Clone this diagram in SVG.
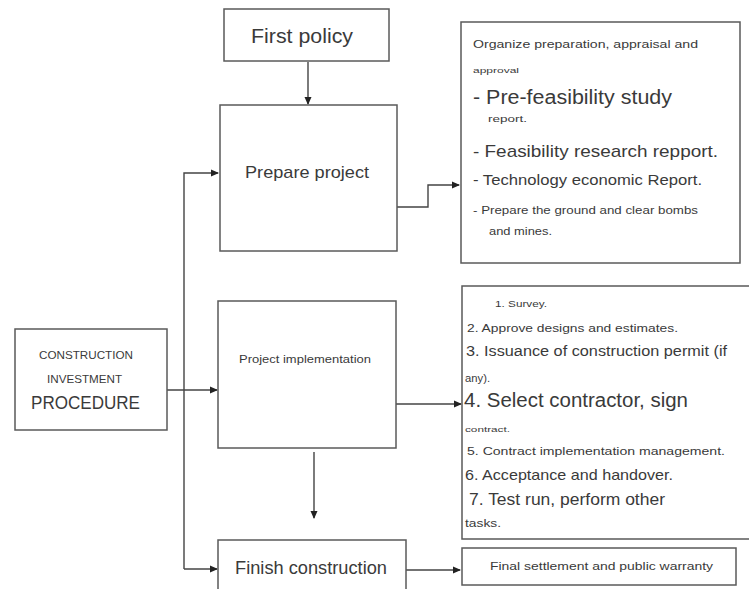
<svg xmlns="http://www.w3.org/2000/svg" width="749" height="589" viewBox="0 0 749 589">
<defs>
<style>
.box{fill:#fff;stroke:#5a5a5a;stroke-width:1.5}
.ln{fill:none;stroke:#444;stroke-width:1.4}
text{font-family:"Liberation Sans",Arial,sans-serif;fill:#3a3a3a}
</style>
<marker id="ah" markerWidth="8" markerHeight="8" refX="7" refY="4" orient="auto" markerUnits="userSpaceOnUse">
<path d="M0,0.5 L8,4 L0,7.5 Z" fill="#222"/>
</marker>
</defs>
<rect width="749" height="589" fill="#fff"/>
<g id="connectors">
<path class="ln" d="M308,62 V104" marker-end="url(#ah)"/>
<path class="ln" d="M184,569 V173 H218" marker-end="url(#ah)"/>
<path class="ln" d="M184,569 H217" marker-end="url(#ah)"/>
<path class="ln" d="M167,390 H217" marker-end="url(#ah)"/>
<path class="ln" d="M397,207 H428 V185 H459" marker-end="url(#ah)"/>
<path class="ln" d="M396,404 H461" marker-end="url(#ah)"/>
<path class="ln" d="M314,452 V518" marker-end="url(#ah)"/>
<path class="ln" d="M406,570 H460" marker-end="url(#ah)"/>
</g>
<g id="first-policy">
<rect class="box" x="224" y="9" width="165" height="52"/>
<text x="251" y="43" font-size="20" textLength="102" lengthAdjust="spacingAndGlyphs">First policy</text>
</g>
<g id="prepare-project">
<rect class="box" x="220" y="105" width="177" height="146"/>
<text x="245" y="178" font-size="17" textLength="124" lengthAdjust="spacingAndGlyphs">Prepare project</text>
</g>
<g id="construction-procedure">
<rect class="box" x="15" y="329" width="152" height="101"/>
<text x="39" y="359" font-size="10.5" textLength="94" lengthAdjust="spacingAndGlyphs">CONSTRUCTION</text>
<text x="47" y="383" font-size="10.5" textLength="75" lengthAdjust="spacingAndGlyphs">INVESTMENT</text>
<text x="31" y="409" font-size="18" textLength="109" lengthAdjust="spacingAndGlyphs">PROCEDURE</text>
</g>
<g id="project-implementation">
<rect class="box" x="218" y="301" width="178" height="147"/>
<text x="239" y="363" font-size="10.5" textLength="132" lengthAdjust="spacingAndGlyphs">Project implementation</text>
</g>
<g id="finish-construction">
<rect class="box" x="218" y="540" width="188" height="60"/>
<text x="235" y="574" font-size="18" textLength="152" lengthAdjust="spacingAndGlyphs">Finish construction</text>
</g>
<g id="preparation-tasks">
<rect class="box" x="461" y="22" width="279" height="241"/>
<text x="473" y="48" font-size="11.5" textLength="225" lengthAdjust="spacingAndGlyphs">Organize preparation, appraisal and</text>
<text x="473" y="73" font-size="7.5" textLength="46" lengthAdjust="spacingAndGlyphs">approval</text>
<text x="473" y="104" font-size="20" textLength="199" lengthAdjust="spacingAndGlyphs">- Pre-feasibility study</text>
<text x="488" y="122" font-size="8.5" textLength="39" lengthAdjust="spacingAndGlyphs">report.</text>
<text x="473" y="157" font-size="17" textLength="245" lengthAdjust="spacingAndGlyphs">-  Feasibility research repport.</text>
<text x="473" y="185" font-size="14" textLength="229" lengthAdjust="spacingAndGlyphs">- Technology economic Report.</text>
<text x="473" y="214" font-size="10.5" textLength="225" lengthAdjust="spacingAndGlyphs">- Prepare the ground and clear bombs</text>
<text x="489" y="235" font-size="10.5" textLength="63" lengthAdjust="spacingAndGlyphs">and mines.</text>
</g>
<g id="implementation-tasks">
<path class="box" d="M760,286 H462 V539 H760"/>
<text x="495" y="307" font-size="9" textLength="52" lengthAdjust="spacingAndGlyphs">1. Survey.</text>
<text x="467" y="332" font-size="11" textLength="211" lengthAdjust="spacingAndGlyphs">2. Approve designs and estimates.</text>
<text x="466" y="356" font-size="14" textLength="261" lengthAdjust="spacingAndGlyphs">3. Issuance of construction permit (if</text>
<text x="465" y="382" font-size="10.5" textLength="25" lengthAdjust="spacingAndGlyphs">any).</text>
<text x="464" y="407" font-size="20" textLength="224" lengthAdjust="spacingAndGlyphs">4. Select contractor, sign</text>
<text x="465" y="432" font-size="8" textLength="45" lengthAdjust="spacingAndGlyphs">contract.</text>
<text x="467" y="455" font-size="11" textLength="258" lengthAdjust="spacingAndGlyphs">5. Contract implementation management.</text>
<text x="465" y="480" font-size="15" textLength="208" lengthAdjust="spacingAndGlyphs">6. Acceptance and handover.</text>
<text x="469" y="505" font-size="16" textLength="196" lengthAdjust="spacingAndGlyphs">7. Test run, perform other</text>
<text x="465" y="527" font-size="10" textLength="36" lengthAdjust="spacingAndGlyphs">tasks.</text>
</g>
<g id="final-settlement">
<rect class="box" x="462" y="548" width="274" height="37"/>
<text x="490" y="570" font-size="11" textLength="223" lengthAdjust="spacingAndGlyphs">Final settlement and public warranty</text>
</g>
</svg>
